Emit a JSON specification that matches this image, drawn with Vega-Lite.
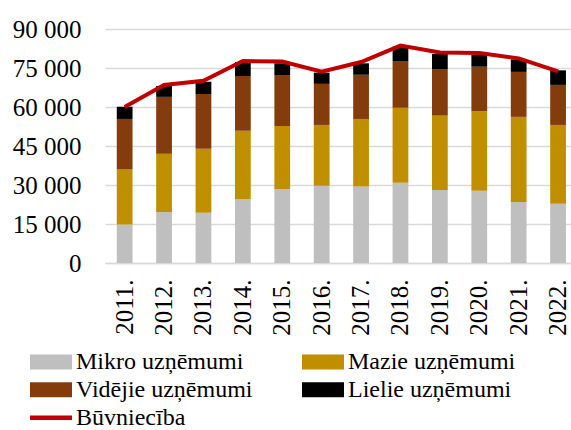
{
  "$schema": "https://vega.github.io/schema/vega-lite/v6.json",
  "width": 466,
  "height": 234,
  "autosize": {"type": "none"},
  "padding": {"left": 105, "top": 29, "right": 0, "bottom": 167},
  "background": "white",
  "config": {"view": {"stroke": null}, "font": "Times New Roman, Liberation Serif, serif"},
  "datasets": {
    "bars": [
      {"gads": "2011.", "kategorija": "Mikro uzņēmumi", "seciba": 1, "vertiba": 14800},
      {"gads": "2011.", "kategorija": "Mazie uzņēmumi", "seciba": 2, "vertiba": 21200},
      {"gads": "2011.", "kategorija": "Vidējie uzņēmumi", "seciba": 3, "vertiba": 19400},
      {"gads": "2011.", "kategorija": "Lielie uzņēmumi", "seciba": 4, "vertiba": 4700},
      {"gads": "2012.", "kategorija": "Mikro uzņēmumi", "seciba": 1, "vertiba": 19600},
      {"gads": "2012.", "kategorija": "Mazie uzņēmumi", "seciba": 2, "vertiba": 22400},
      {"gads": "2012.", "kategorija": "Vidējie uzņēmumi", "seciba": 3, "vertiba": 21900},
      {"gads": "2012.", "kategorija": "Lielie uzņēmumi", "seciba": 4, "vertiba": 4200},
      {"gads": "2013.", "kategorija": "Mikro uzņēmumi", "seciba": 1, "vertiba": 19300},
      {"gads": "2013.", "kategorija": "Mazie uzņēmumi", "seciba": 2, "vertiba": 24600},
      {"gads": "2013.", "kategorija": "Vidējie uzņēmumi", "seciba": 3, "vertiba": 21100},
      {"gads": "2013.", "kategorija": "Lielie uzņēmumi", "seciba": 4, "vertiba": 4700},
      {"gads": "2014.", "kategorija": "Mikro uzņēmumi", "seciba": 1, "vertiba": 24600},
      {"gads": "2014.", "kategorija": "Mazie uzņēmumi", "seciba": 2, "vertiba": 26300},
      {"gads": "2014.", "kategorija": "Vidējie uzņēmumi", "seciba": 3, "vertiba": 21000},
      {"gads": "2014.", "kategorija": "Lielie uzņēmumi", "seciba": 4, "vertiba": 5400},
      {"gads": "2015.", "kategorija": "Mikro uzņēmumi", "seciba": 1, "vertiba": 28500},
      {"gads": "2015.", "kategorija": "Mazie uzņēmumi", "seciba": 2, "vertiba": 24200},
      {"gads": "2015.", "kategorija": "Vidējie uzņēmumi", "seciba": 3, "vertiba": 19600},
      {"gads": "2015.", "kategorija": "Lielie uzņēmumi", "seciba": 4, "vertiba": 4500},
      {"gads": "2016.", "kategorija": "Mikro uzņēmumi", "seciba": 1, "vertiba": 29700},
      {"gads": "2016.", "kategorija": "Mazie uzņēmumi", "seciba": 2, "vertiba": 23400},
      {"gads": "2016.", "kategorija": "Vidējie uzņēmumi", "seciba": 3, "vertiba": 15800},
      {"gads": "2016.", "kategorija": "Lielie uzņēmumi", "seciba": 4, "vertiba": 4300},
      {"gads": "2017.", "kategorija": "Mikro uzņēmumi", "seciba": 1, "vertiba": 29400},
      {"gads": "2017.", "kategorija": "Mazie uzņēmumi", "seciba": 2, "vertiba": 26000},
      {"gads": "2017.", "kategorija": "Vidējie uzņēmumi", "seciba": 3, "vertiba": 17000},
      {"gads": "2017.", "kategorija": "Lielie uzņēmumi", "seciba": 4, "vertiba": 4400},
      {"gads": "2018.", "kategorija": "Mikro uzņēmumi", "seciba": 1, "vertiba": 30900},
      {"gads": "2018.", "kategorija": "Mazie uzņēmumi", "seciba": 2, "vertiba": 28800},
      {"gads": "2018.", "kategorija": "Vidējie uzņēmumi", "seciba": 3, "vertiba": 18000},
      {"gads": "2018.", "kategorija": "Lielie uzņēmumi", "seciba": 4, "vertiba": 5500},
      {"gads": "2019.", "kategorija": "Mikro uzņēmumi", "seciba": 1, "vertiba": 28100},
      {"gads": "2019.", "kategorija": "Mazie uzņēmumi", "seciba": 2, "vertiba": 28600},
      {"gads": "2019.", "kategorija": "Vidējie uzņēmumi", "seciba": 3, "vertiba": 17900},
      {"gads": "2019.", "kategorija": "Lielie uzņēmumi", "seciba": 4, "vertiba": 5800},
      {"gads": "2020.", "kategorija": "Mikro uzņēmumi", "seciba": 1, "vertiba": 27800},
      {"gads": "2020.", "kategorija": "Mazie uzņēmumi", "seciba": 2, "vertiba": 30500},
      {"gads": "2020.", "kategorija": "Vidējie uzņēmumi", "seciba": 3, "vertiba": 17200},
      {"gads": "2020.", "kategorija": "Lielie uzņēmumi", "seciba": 4, "vertiba": 4500},
      {"gads": "2021.", "kategorija": "Mikro uzņēmumi", "seciba": 1, "vertiba": 23500},
      {"gads": "2021.", "kategorija": "Mazie uzņēmumi", "seciba": 2, "vertiba": 32700},
      {"gads": "2021.", "kategorija": "Vidējie uzņēmumi", "seciba": 3, "vertiba": 17300},
      {"gads": "2021.", "kategorija": "Lielie uzņēmumi", "seciba": 4, "vertiba": 4800},
      {"gads": "2022.", "kategorija": "Mikro uzņēmumi", "seciba": 1, "vertiba": 22800},
      {"gads": "2022.", "kategorija": "Mazie uzņēmumi", "seciba": 2, "vertiba": 30300},
      {"gads": "2022.", "kategorija": "Vidējie uzņēmumi", "seciba": 3, "vertiba": 15400},
      {"gads": "2022.", "kategorija": "Lielie uzņēmumi", "seciba": 4, "vertiba": 5600}
    ],
    "line": [
      {"gads": "2011.", "kategorija": "Būvniecība", "vertiba": 60000},
      {"gads": "2012.", "kategorija": "Būvniecība", "vertiba": 68500},
      {"gads": "2013.", "kategorija": "Būvniecība", "vertiba": 70100},
      {"gads": "2014.", "kategorija": "Būvniecība", "vertiba": 77700},
      {"gads": "2015.", "kategorija": "Būvniecība", "vertiba": 77500},
      {"gads": "2016.", "kategorija": "Būvniecība", "vertiba": 73600},
      {"gads": "2017.", "kategorija": "Būvniecība", "vertiba": 77300},
      {"gads": "2018.", "kategorija": "Būvniecība", "vertiba": 83600},
      {"gads": "2019.", "kategorija": "Būvniecība", "vertiba": 81000},
      {"gads": "2020.", "kategorija": "Būvniecība", "vertiba": 80800},
      {"gads": "2021.", "kategorija": "Būvniecība", "vertiba": 78700},
      {"gads": "2022.", "kategorija": "Būvniecība", "vertiba": 73700}
    ]
  },
  "encoding": {
    "x": {
      "field": "gads",
      "type": "ordinal",
      "scale": {"paddingInner": 0.6, "paddingOuter": 0.2135, "align": 0.7},
      "axis": {
        "title": null,
        "labelAngle": -90,
        "labelAlign": "right",
        "labelBaseline": "middle",
        "labelFontSize": 25,
        "labelFont": "Times New Roman, Liberation Serif, serif",
        "labelColor": "black",
        "labelPadding": 16,
        "labelOverlap": false,
        "ticks": false,
        "domainColor": "#d9d9d9",
        "domainWidth": 1.5,
        "grid": false
      }
    }
  },
  "layer": [
    {
      "data": {"name": "bars"},
      "mark": {"type": "bar"},
      "encoding": {
        "y": {
          "field": "vertiba",
          "type": "quantitative",
          "stack": "zero",
          "scale": {"domain": [0, 90000]},
          "axis": {
            "title": null,
            "values": [0, 15000, 30000, 45000, 60000, 75000, 90000],
            "labelExpr": "replace(format(datum.value, ','), ',', ' ')",
            "labelFontSize": 25,
            "labelFont": "Times New Roman, Liberation Serif, serif",
            "labelColor": "black",
            "labelPadding": 24,
            "labelOverlap": false,
            "ticks": false,
            "domain": false,
            "gridColor": "#d9d9d9",
            "gridWidth": 1.5
          }
        },
        "order": {"field": "seciba", "type": "quantitative", "sort": "ascending"},
        "color": {
          "field": "kategorija",
          "type": "nominal",
          "scale": {
            "domain": ["Mikro uzņēmumi", "Mazie uzņēmumi", "Vidējie uzņēmumi", "Lielie uzņēmumi", "Būvniecība"],
            "range": ["#bfbfbf", "#bf8f00", "#843c0c", "#000000", "#c00000"]
          },
          "legend": {
            "title": null,
            "orient": "none",
            "direction": "horizontal",
            "legendX": -75,
            "legendY": 319,
            "columns": 2,
            "columnPadding": 49,
            "rowPadding": 0,
            "clipHeight": 27.5,
            "padding": 0,
            "labelFontSize": 24,
            "labelFont": "Times New Roman, Liberation Serif, serif",
            "labelColor": "black",
            "labelOffset": 4,
            "labelLimit": 400,
            "symbolType": "M-1,-0.36H1V0.36H-1Z",
            "symbolSize": 1764,
            "encode": {
              "symbols": {
                "update": {
                  "shape": {"signal": "datum.value === 'Būvniecība' ? 'M-1,-0.11H1V0.11H-1Z' : 'M-1,-0.36H1V0.36H-1Z'"},
                  "fill": {"scale": "color", "field": "value"},
                  "stroke": {"value": "transparent"},
                  "strokeWidth": {"value": 0},
                  "opacity": {"value": 1}
                }
              }
            }
          }
        }
      }
    },
    {
      "data": {"name": "line"},
      "mark": {"type": "line", "strokeWidth": 4},
      "encoding": {
        "y": {
          "field": "vertiba",
          "type": "quantitative",
          "axis": {
            "title": null,
            "values": [0, 15000, 30000, 45000, 60000, 75000, 90000],
            "labelExpr": "replace(format(datum.value, ','), ',', ' ')",
            "labelFontSize": 25,
            "labelFont": "Times New Roman, Liberation Serif, serif",
            "labelColor": "black",
            "labelPadding": 24,
            "labelOverlap": false,
            "ticks": false,
            "domain": false,
            "gridColor": "#d9d9d9",
            "gridWidth": 1.5
          }
        },
        "color": {"field": "kategorija", "type": "nominal"}
      }
    }
  ]
}
